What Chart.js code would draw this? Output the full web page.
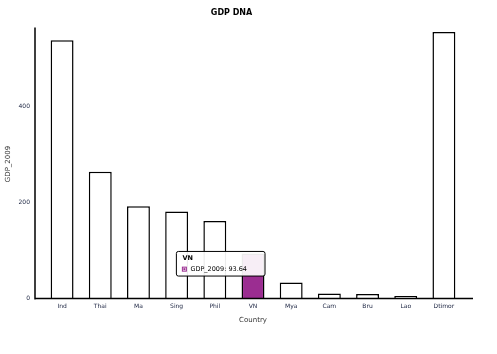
<!DOCTYPE html>
<html>
<head>
<meta charset="utf-8">
<script src="https://cdn.jsdelivr.net/npm/chart.js@4"></script>
<style>
  body { margin: 0; background: #fff; }
  canvas { display: block; }
</style>
</head>
<body>
<canvas id="gdpChart" width="497" height="354"></canvas>
<script>
const countries = ["Ind", "Thai", "Ma", "Sing", "Phil", "VN", "Mya", "Cam", "Bru", "Lao", "Dtimor"];
const gdp2009 = [538, 264, 192, 181, 161, 93.64, 33, 10, 9, 5, 555];
const yTicks = [0, 200, 400];
const highlightIndex = 5;

const barColors = countries.map((c, i) => i === highlightIndex ? '#9b2d91' : '#ffffff');

// axis lines drawn a little past the plot like the sketchy original
const axisLines = {
  id: 'axisLines',
  afterDatasetsDraw(chart) {
    const { ctx, chartArea } = chart;
    const y0 = chart.scales.y.getPixelForValue(0);
    ctx.save();
    ctx.strokeStyle = '#000';
    ctx.lineWidth = 1.5;
    ctx.beginPath();
    ctx.moveTo(chartArea.left - 8, chartArea.top - 2);
    ctx.lineTo(chartArea.left - 8, y0 + 1);
    ctx.moveTo(chartArea.left - 8, y0);
    ctx.lineTo(chartArea.right + 10, y0);
    ctx.stroke();
    ctx.restore();
  }
};

Chart.Tooltip.positioners.besideBar = function (items) {
  if (!items.length) return false;
  const el = items[0].element;
  return { x: el.x + 10, y: el.y - 2 };
};

const ctx = document.getElementById('gdpChart').getContext('2d');
const chart = new Chart(ctx, {
  type: 'bar',
  data: {
    labels: countries,
    datasets: [{
      label: 'GDP_2009',
      data: gdp2009,
      backgroundColor: barColors,
      borderColor: '#000',
      borderWidth: 1.5,
      barPercentage: 0.6,
      categoryPercentage: 1.0
    }]
  },
  options: {
    responsive: false,
    animation: false,
    events: [],
    layout: { padding: { left: 0, right: 34, top: 0, bottom: 26 } },
    plugins: {
      legend: { display: false },
      title: {
        display: true,
        text: 'GDP DNA',
        color: '#000',
        font: { family: 'DejaVu Sans', size: 8, weight: 'bold' },
        padding: { top: 8, bottom: 12 }
      },
      tooltip: {
        position: 'besideBar',
        xAlign: 'right',
        yAlign: 'top',
        caretSize: 0,
        caretPadding: 0,
        backgroundColor: 'rgba(255,255,255,0.92)',
        borderColor: '#000',
        borderWidth: 1,
        titleColor: '#000',
        bodyColor: '#000',
        titleFont: { family: 'DejaVu Sans', size: 6.5, weight: 'bold' },
        bodyFont: { family: 'DejaVu Sans', size: 6.5 },
        titleMarginBottom: 3,
        padding: { left: 6, right: 18, top: 3, bottom: 3 },
        cornerRadius: 2,
        boxWidth: 4,
        boxHeight: 4,
        boxPadding: 2,
        callbacks: {
          labelColor: () => ({ borderColor: '#9b2d91', backgroundColor: '#9b2d91', borderWidth: 0 })
        }
      }
    },
    scales: {
      x: {
        grid: { display: false, drawTicks: false },
        border: { display: false },
        ticks: {
          color: '#1a2340',
          font: { family: 'DejaVu Sans', size: 6 },
          padding: 4,
          maxRotation: 0,
          autoSkip: false
        },
        title: {
          display: true,
          text: 'Country',
          color: '#333',
          font: { family: 'DejaVu Sans', size: 7 },
          padding: { top: 2 }
        }
      },
      y: {
        min: 0,
        max: 560,
        afterBuildTicks: axis => { axis.ticks = yTicks.map(v => ({ value: v })); },
        afterFit: axis => { axis.width = 43; },
        grid: { display: false, drawTicks: false },
        border: { display: false },
        ticks: {
          color: '#1a2340',
          font: { family: 'DejaVu Sans', size: 6 },
          padding: 13
        },
        title: {
          display: true,
          text: 'GDP_2009',
          color: '#333',
          font: { family: 'DejaVu Sans', size: 7 },
          padding: { bottom: 0 }
        }
      }
    }
  },
  plugins: [axisLines]
});

chart.tooltip.setActiveElements([{ datasetIndex: 0, index: highlightIndex }], { x: 0, y: 0 });
chart.update();
</script>
</body>
</html>
